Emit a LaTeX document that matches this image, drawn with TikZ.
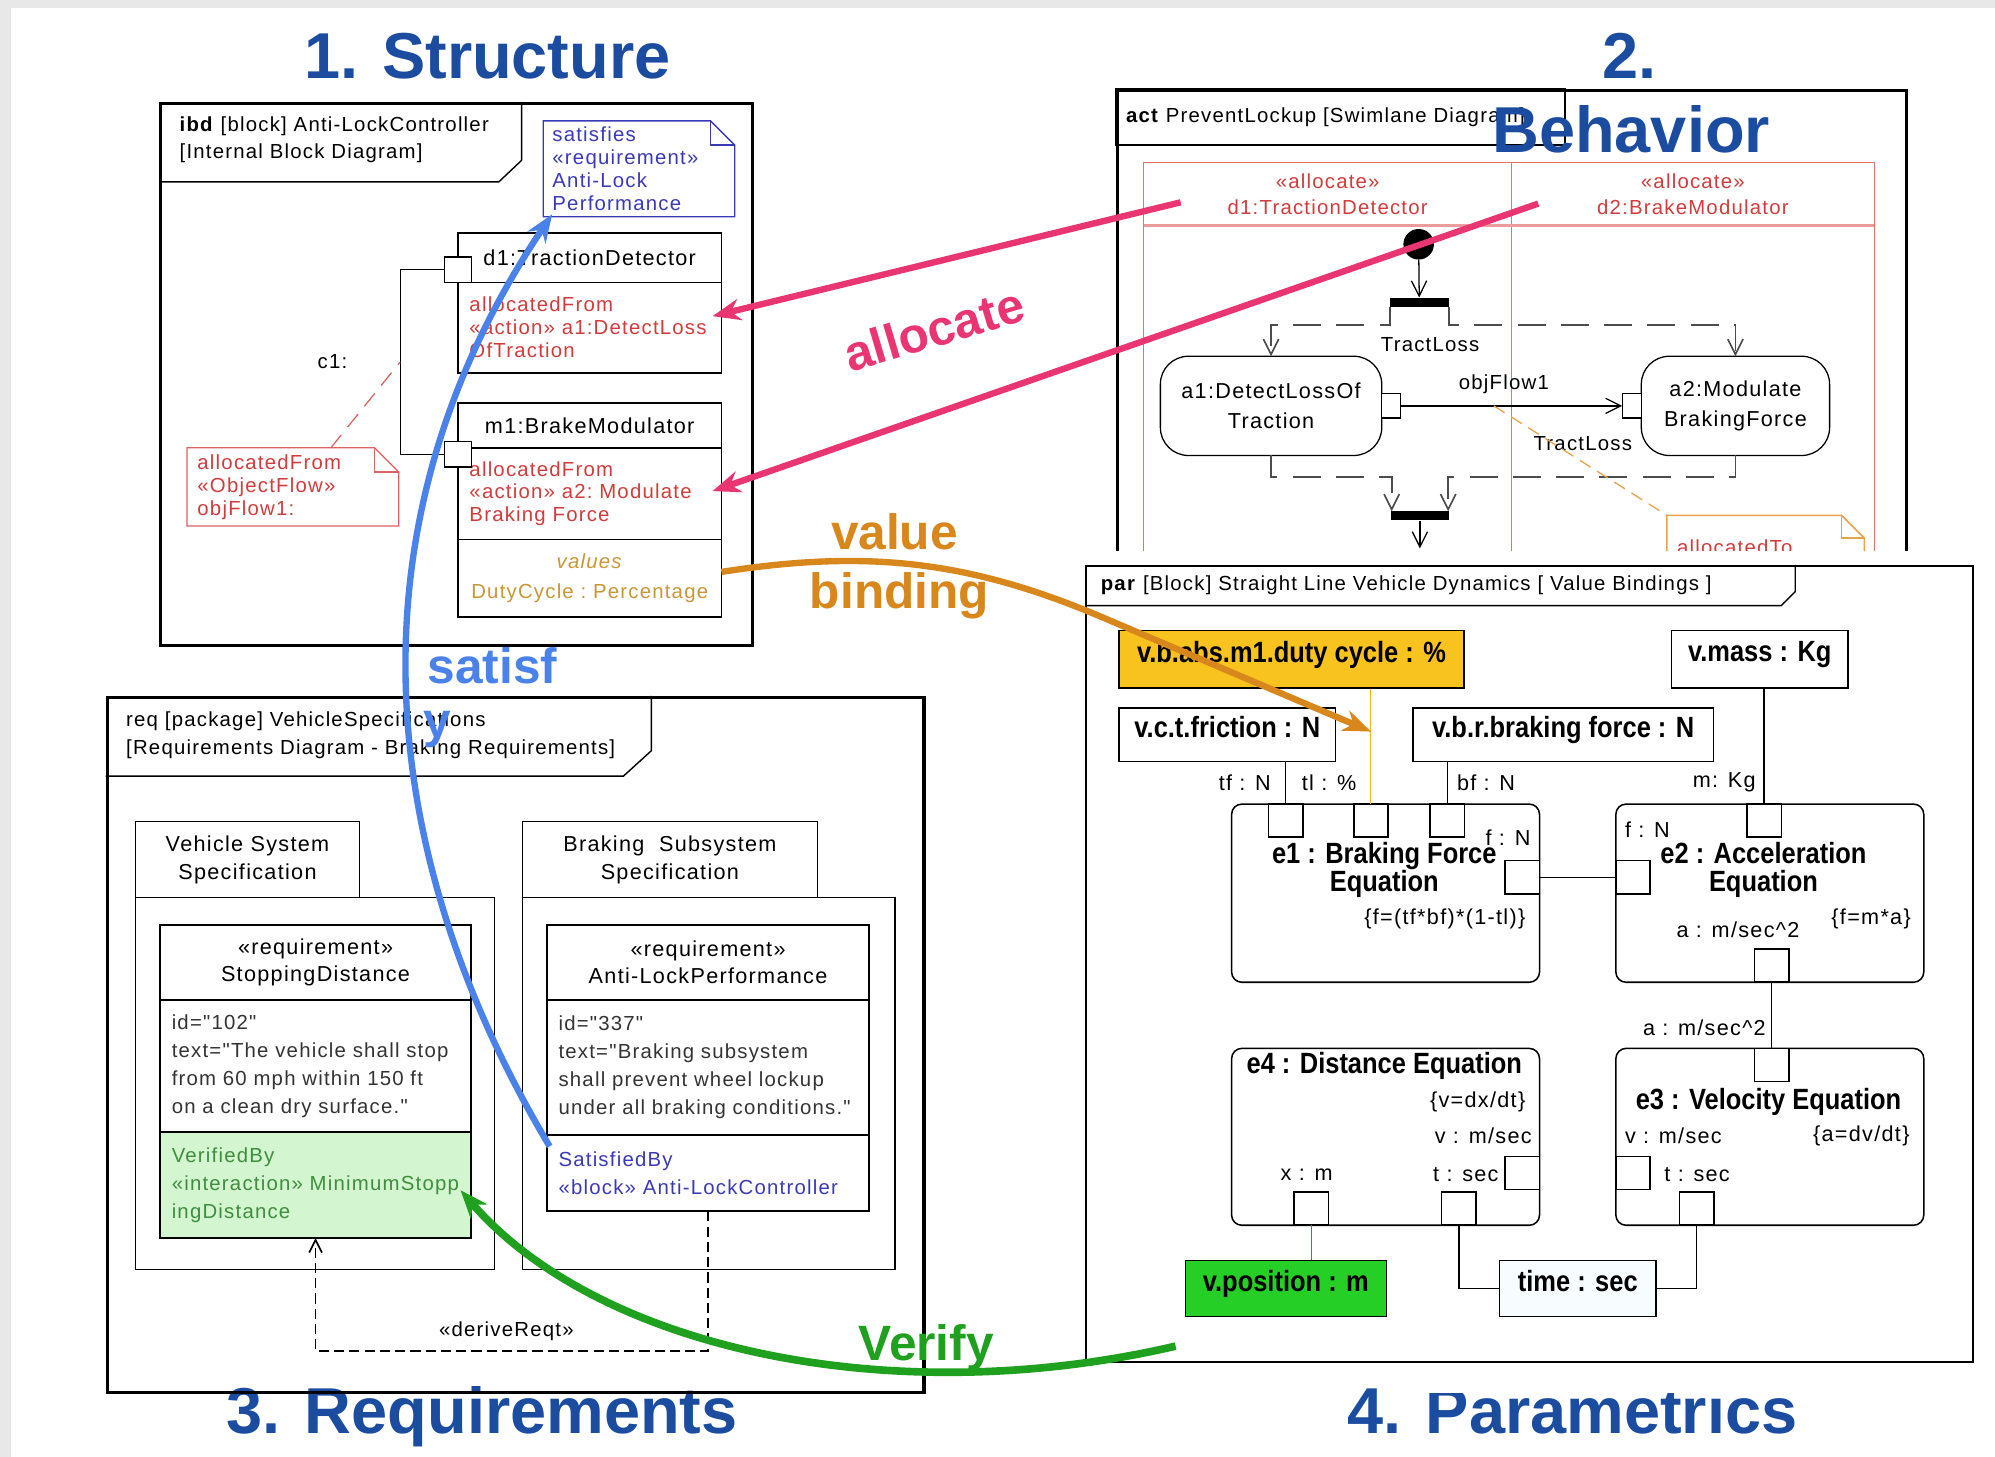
\documentclass[tikz,border=0pt]{standalone}
\usepackage{fontspec}
\setmainfont{Liberation Sans}
\newfontfamily\umlfont[LetterSpace=6]{Liberation Sans}
\newfontfamily\parfont[FakeStretch=0.87]{Liberation Sans}
\usepackage{tikz}
\usetikzlibrary{arrows.meta, positioning, calc}
\definecolor{TitleBlue}{HTML}{1B4C9F}
\definecolor{AllocPink}{HTML}{EA3573}
\definecolor{BindOrange}{HTML}{D8871C}
\definecolor{SatBlue}{HTML}{4A82EA}
\definecolor{VerGreen}{HTML}{1FA01F}
\definecolor{UmlRed}{HTML}{D23C3C}
\definecolor{LaneRed}{HTML}{E27272}
\definecolor{NoteBlue}{HTML}{3A3AB8}
\definecolor{ValOrange}{HTML}{C99638}
\definecolor{ReqGreen}{HTML}{3E8E3E}
\definecolor{ReqFill}{HTML}{D3F5CF}
\definecolor{DutyYellow}{HTML}{F8C31E}
\definecolor{PosGreen}{HTML}{25CF25}
\definecolor{NoteOrange}{HTML}{E9A24A}
\definecolor{SlideGray}{HTML}{E8E8E8}
\definecolor{TextGray}{HTML}{333333}

% font shortcuts
\newcommand{\umltext}{\umlfont\fontsize{16}{18}\selectfont}
\newcommand{\umlname}{\umlfont\fontsize{17}{21}\selectfont}
\newcommand{\reqtext}{\umlfont\fontsize{16}{22}\selectfont}
\newcommand{\parname}{\parfont\fontsize{23}{22}\selectfont\bfseries}
\newcommand{\parlabel}{\umlfont\fontsize{17}{20}\selectfont}
\newcommand{\bigword}{\fontsize{39}{44}\selectfont\bfseries}
\newcommand{\titletext}{\fontsize{51}{56}\selectfont\bfseries}

% note outline with folded corner
\newcommand{\dogear}[3]{%
  \draw[#2] (#1.north west) -- ([xshift=-#3]#1.north east) -- ([yshift=-#3]#1.north east)
    -- (#1.south east) -- (#1.south west) -- cycle;
  \draw[#2] ([xshift=-#3]#1.north east) |- ([yshift=-#3]#1.north east);}

\tikzset{
  % frames
  diagframe/.style={draw, line width=2.6pt, anchor=north west, inner sep=0pt},
  parframe/.style={draw, line width=1.3pt, fill=white, anchor=north west, inner sep=0pt},
  hdrline/.style={line width=1.1pt},
  framelabel/.style={anchor=west, align=left, font=\umltext, inner sep=0pt},
  % ibd blocks
  blockhead/.style={draw, line width=1.4pt, outer sep=0pt, minimum width=207pt, font=\umlname, inner sep=0pt},
  blockcomp/.style={draw, line width=1.4pt, outer sep=0pt, minimum width=207pt, text width=189pt, inner xsep=9pt, inner ysep=0pt, align=left, font=\umltext, text=UmlRed},
  port/.style={draw, line width=1pt, fill=white, outer sep=0pt, minimum width=21pt, minimum height=20pt, inner sep=0pt},
  conn/.style={line width=1pt},
  note/.style={align=left, font=\umltext, inner sep=0pt, anchor=north west},
  % activity
  action/.style={draw, line width=1pt, rounded corners=22pt, align=center, font=\umlname, minimum height=78pt, anchor=north west, outer sep=0pt},
  actpin/.style={draw, line width=1pt, fill=white, outer sep=0pt, minimum width=15pt, minimum height=19pt, inner sep=0pt},
  bar/.style={fill=black, minimum width=46pt, minimum height=7pt, inner sep=0pt},
  ctrlflow/.style={line width=1.3pt, black!70, dash pattern=on 22pt off 12pt, -{Straight Barb[length=12pt,width=12pt]}},
  objflow/.style={line width=1pt, -{Straight Barb[length=12pt,width=12pt]}},
  lanebox/.style={draw=LaneRed, line width=0.8pt, outer sep=0pt, align=center, font=\umltext, text=UmlRed, inner sep=0pt, anchor=north west},
  % requirements
  pkgtab/.style={draw, line width=1pt, align=center, font=\umlname, minimum height=60pt, anchor=north west, fill=white},
  pkgbody/.style={draw, line width=1pt, anchor=north west},
  reqhead/.style={draw, line width=1.6pt, outer sep=0pt, align=center, font=\umlname, inner sep=0pt},
  reqcomp/.style={draw, line width=1.6pt, outer sep=0pt, align=left, font=\reqtext, text=TextGray, inner xsep=9pt, inner ysep=0pt},
  derive/.style={line width=1.3pt, dash pattern=on 8pt off 4pt, -{Straight Barb[length=10pt,width=10pt]}},
  % parametrics
  valbox/.style={draw, line width=1.2pt, font=\parname, text depth=12pt, inner sep=0pt, anchor=north west},
  constraint/.style={draw, line width=1.2pt, rounded corners=8pt, anchor=north west, inner sep=0pt, outer sep=0pt},
  cport/.style={draw, line width=1.2pt, fill=white, outer sep=0pt, minimum width=27pt, minimum height=26pt, inner sep=0pt},
  plabel/.style={font=\parlabel, inner sep=0pt},
  bind/.style={line width=1.2pt},
  % cross-diagram arrows
  bigarrow/.style={line width=5pt, -{Stealth[length=22pt,width=17pt]}},
  bigtext/.style={font=\bigword, inner sep=0pt, anchor=base},
  headline/.style={font=\titletext, text=TitleBlue, anchor=base, inner sep=0pt}
}

\begin{document}
\begin{tikzpicture}[x=1pt, y=-1pt]
  \useasboundingbox (0,0) rectangle (1568,1145);
  % slide background
  \fill[SlideGray] (0,0) rectangle (1568,1145);
  \fill[white] (9,6) rectangle (1568,1145);

  % Section titles
  \node[headline] (t1) at (383,62) {1. Structure};
  \node[headline] (t2) at (1281,62) {2.};
  \node[headline] (t3) at (379,1127) {3. Requirements};
  \begin{scope}
    % top of the last title is cut off
    \clip (1040,1060) -- (1103,1060) -- (1103,1095) -- (1430,1095) -- (1430,1145) -- (1040,1145) -- cycle;
    \node[headline] (t4) at (1236,1127) {4. Parametrics};
  \end{scope}

  % ---- internal block diagram ----
  \node[diagframe, minimum width=465pt, minimum height=426pt] (ibd) at (125,80) {};
  \draw[hdrline] (125,143) -- (392,143) -- (410,126) -- (410,80);
  \node[framelabel] (ibdlbl) at (141,110) {\textbf{ibd} [block] Anti-LockController\\[3pt]{[Internal Block Diagram]}};

  \node[note, text=NoteBlue, minimum width=150pt, minimum height=75pt, text width=136pt, inner xsep=7pt] (satnote) at (427,95)
    {satisfies\\«requirement»\\Anti-Lock\\Performance};
  \dogear{satnote}{NoteBlue, line width=1pt}{19pt}

  \node[blockhead, minimum height=39pt, anchor=north west] (d1) at (360,183) {d1:TractionDetector};
  \node[blockcomp, minimum height=71pt, below=0pt of d1] (d1alloc) {allocatedFrom\\«action»~a1:DetectLoss\\OfTraction};
  \node[blockhead, minimum height=35pt, anchor=north west] (m1) at (360,317) {m1:BrakeModulator};
  \node[blockcomp, minimum height=72pt, below=0pt of m1] (m1alloc) {allocatedFrom\\«action»~a2:~Modulate\\Braking~Force};
  \node[blockcomp, minimum height=61pt, below=0pt of m1alloc, align=center, text=ValOrange] (m1vals) {\textit{values}\\[5pt]DutyCycle~:~Percentage};

  % ports and connector c1
  \node[port, anchor=south] (d1p) at (d1.south west) {};
  \node[port, yshift=-5pt] (m1p) at (m1alloc.north west) {};
  \draw[conn] (d1p.west) -- ++(-35,0) coordinate (c1top) |- (m1p.west);
  \coordinate (c1mid) at ($(c1top)!0.5!(c1top |- m1p.west)$);
  \node[font=\umltext, left=38pt of c1mid] (c1lbl) {c1:};

  \node[note, text=UmlRed, minimum width=166pt, minimum height=61pt, text width=150pt, inner xsep=8pt] (objnote) at (147,352)
    {allocatedFrom\\«ObjectFlow»\\objFlow1:};
  \dogear{objnote}{UmlRed!80, line width=1pt}{19pt}
  \draw[UmlRed!80, line width=1pt, dash pattern=on 13pt off 8pt] ([xshift=113pt]objnote.north west) -- (c1mid);

  % ---- requirements diagram ----
  \node[diagframe, minimum width=642pt, minimum height=546pt] (req) at (83,547) {};
  \draw[hdrline] (83,610) -- (490,610) -- (512,590) -- (512,547);
  \node[framelabel] (reqlbl) at (99,578) {req [package] VehicleSpecifications\\[4pt]{[Requirements Diagram - Braking Requirements]}};

  \node[pkgbody, minimum width=282pt, minimum height=292pt] (vss) at (106,705) {};
  \node[pkgtab, minimum width=176pt] (vsstab) at (106,645) {Vehicle System\\[1pt]Specification};
  \node[pkgbody, minimum width=293pt, minimum height=292pt] (bss) at (410,705) {};
  \node[pkgtab, minimum width=232pt] (bsstab) at (410,645) {Braking~~Subsystem\\[1pt]Specification};

  \node[reqhead, minimum width=244pt, minimum height=59pt, anchor=north west] (sdhead) at (126,727) {«requirement»\\StoppingDistance};
  \node[reqcomp, minimum width=244pt, text width=226pt, minimum height=104pt, below=0pt of sdhead] (sdbody)
    {id="102"\\text="The vehicle shall stop\\from 60 mph within 150 ft\\on a clean dry surface."};
  \node[reqcomp, fill=ReqFill, text=ReqGreen, minimum width=244pt, text width=226pt, minimum height=83pt, below=0pt of sdbody] (sdver)
    {VerifiedBy\\«interaction»~MinimumStopp\\ingDistance};

  \node[reqhead, minimum width=253pt, minimum height=59pt, anchor=north west] (alhead) at (430,727) {«requirement»\\Anti-LockPerformance};
  \node[reqcomp, minimum width=253pt, text width=235pt, minimum height=106pt, below=0pt of alhead] (albody)
    {id="337"\\text="Braking subsystem\\shall prevent wheel lockup\\under all braking conditions."};
  \node[reqcomp, text=NoteBlue, minimum width=253pt, text width=235pt, minimum height=60pt, below=0pt of albody] (alsat)
    {SatisfiedBy\\«block»~Anti-LockController};

  \draw[derive] (alsat.south) -- ++(0,110) -| (sdver.south);
  \node[font=\umltext] (derivelbl) at (398,1046) {«deriveReqt»};

  % ---- activity diagram ----
  \begin{scope}
    \clip (850,60) rectangle (1520,433);
    \node[diagframe, minimum width=620pt, minimum height=420pt] (act) at (877,70) {};
    \node[draw, line width=1.1pt, anchor=north west, outer sep=0pt, minimum width=353pt, minimum height=44pt,
      text width=337pt, inner xsep=8pt, align=left, font=\umltext] (acthdr) at (877,70) {\textbf{act} PreventLockup [Swimlane Diagram]};

    \node[lanebox, minimum width=289pt, minimum height=49pt] (lane1) at (899,128) {«allocate»\\[2pt]d1:TractionDetector};
    \node[lanebox, minimum width=285pt, minimum height=49pt, right=0pt of lane1] (lane2) {«allocate»\\[2pt]d2:BrakeModulator};
    \node[lanebox, minimum width=289pt, minimum height=300pt, below=0pt of lane1] (lane1body) {};
    \node[lanebox, minimum width=285pt, minimum height=300pt, below=0pt of lane2] (lane2body) {};
    \draw[LaneRed!70, line width=2.4pt] (lane1.south west) -- (lane2.south east);

    \node[circle, fill=black, minimum size=24pt, inner sep=0pt] (init) at (1115,192) {};
    \node[bar] (fork) at (1115.5,237.5) {};
    \node[action, minimum width=174pt] (a1) at (912,280) {a1:DetectLossOf\\[2pt]Traction};
    \node[action, minimum width=148pt] (a2) at (1290,280) {a2:Modulate\\[2pt]BrakingForce};
    \node[actpin, right=0pt of a1] (a1out) {};
    \node[actpin, left=0pt of a2] (a2in) {};
    \node[bar] (join) at (1116,405.5) {};
    \coordinate (actexit) at (1116,431);

    \draw[objflow] (init) -- (fork);
    \draw[ctrlflow] (fork.south west) -- ++(0,14) -| (a1.north);
    \draw[ctrlflow] (fork.south east) -- ++(0,14) -| (a2.north);
    \draw[objflow] (a1out) -- (a2in);
    \draw[ctrlflow] (a1.south) -- ++(0,17) -| ([xshift=1pt]join.north west);
    \draw[ctrlflow] (a2.south) -- ++(0,17) -| ([xshift=-1pt]join.north east);
    \draw[objflow] (join) -- (actexit);

    \node[font=\umltext] (tl1) at (1124,271) {TractLoss};
    \node[font=\umltext] (of1) at (1182,302) {objFlow1};
    \node[font=\umltext] (tl2) at (1244,349) {TractLoss};

    \node[note, text=UmlRed, minimum width=155pt, minimum height=50pt, text width=139pt, inner xsep=8pt] (alloctonote) at (1310,405) {allocatedTo};
    \dogear{alloctonote}{NoteOrange, line width=1.2pt}{18pt}
    \coordinate (ofmid) at ($(a1out.east)!0.42!(a2in.west)$);
    \draw[NoteOrange, line width=1pt, dash pattern=on 10pt off 6pt] (ofmid) -- (alloctonote.north west);
  \end{scope}

  % ---- parametric diagram ----
  \node[parframe, minimum width=697pt, minimum height=626pt] (par) at (853,444) {};
  \draw[hdrline] (853,476) -- (1400,476) -- (1411,465) -- (1411,444);
  \node[framelabel] (parlbl) at (865,460) {\textbf{par} [Block] Straight Line Vehicle Dynamics [ Value Bindings ]};

  \node[valbox, fill=DutyYellow, minimum width=271pt, minimum height=45pt] (duty) at (879,495) {v.b.abs.m1.duty cycle : \%};
  \node[valbox, minimum width=139pt, minimum height=45pt] (mass) at (1313,495) {v.mass : Kg};
  \node[valbox, minimum width=170pt, minimum height=42pt] (fric) at (879,556) {v.c.t.friction : N};
  \node[valbox, minimum width=236pt, minimum height=42pt] (bforce) at (1110,556) {v.b.r.braking force : N};
  \node[valbox, fill=PosGreen, minimum width=158pt, minimum height=44pt] (vpos) at (931,990) {v.position : m};
  \node[valbox, fill=cyan!3, minimum width=123pt, minimum height=44pt] (time) at (1178,990) {time : sec};

  \node[constraint, minimum width=242pt, minimum height=140pt] (e1) at (968,632) {};
  \node[constraint, minimum width=242pt, minimum height=140pt] (e2) at (1270,632) {};
  \node[constraint, minimum width=242pt, minimum height=139pt] (e4) at (968,824) {};
  \node[constraint, minimum width=242pt, minimum height=139pt] (e3) at (1270,824) {};

  \node[font=\parname, align=center] (e1name) at (1088,684) {e1 : Braking Force\\Equation};
  \node[font=\parname, align=center] (e2name) at (1386,684) {e2 : Acceleration\\Equation};
  \node[font=\parname] (e3name) at (1390,866) {e3 : Velocity Equation};
  \node[font=\parname] (e4name) at (1088,838) {e4 : Distance Equation};

  % constraint ports
  \node[cport, below right=0pt and 29pt of e1.north west] (ptf) {};
  \node[cport, below right=0pt and 96pt of e1.north west] (ptl) {};
  \node[cport, below right=0pt and 156pt of e1.north west] (pbf) {};
  \node[cport, left=0pt of e1.east, yshift=12.5pt] (pf1) {};
  \node[cport, right=0pt of e2.west, yshift=12.5pt] (pf2) {};
  \node[cport, below right=0pt and 103pt of e2.north west] (pm) {};
  \node[cport, above right=0pt and 109pt of e2.south west] (pa2) {};
  \node[cport, below right=0pt and 109pt of e3.north west] (pa3) {};
  \node[cport, right=0pt of e3.west, yshift=-28.5pt] (pv3) {};
  \node[cport, above right=0pt and 50pt of e3.south west] (pt3) {};
  \node[cport, left=0pt of e4.east, yshift=-28.5pt] (pv4) {};
  \node[cport, above right=0pt and 49pt of e4.south west] (px) {};
  \node[cport, above right=0pt and 165pt of e4.south west] (pt4) {};

  % port labels
  \node[plabel, anchor=east] (ltf) at (999,615) {tf : N};
  \node[plabel, anchor=west] (ltl) at (1023,615) {tl : \%};
  \node[plabel, anchor=west] (lbf) at (1145,615) {bf : N};
  \node[plabel, anchor=east] (lm) at (1380,615) {m: Kg};
  \node[plabel, anchor=east] (lf1) at (1203,658) {f : N};
  \node[plabel, anchor=west] (lf2) at (1277,652) {f : N};
  \node[plabel, anchor=east] (le1) at (1199,722) {\{f=(tf*bf)*(1-tl)\}};
  \node[plabel, anchor=east] (le2) at (1502,722) {\{f=m*a\}};
  \node[plabel] (la2) at (1366,731) {a : m/sec\textasciicircum 2};
  \node[plabel, anchor=east] (la3) at (1388,808) {a : m/sec\textasciicircum 2};
  \node[plabel, anchor=west] (lv3) at (1277,893) {v : m/sec};
  \node[plabel, anchor=east] (le3) at (1501,893) {\{a=dv/dt\}};
  \node[plabel, anchor=west] (lt3) at (1308,923) {t : sec};
  \node[plabel, anchor=east] (le4) at (1199,866) {\{v=dx/dt\}};
  \node[plabel, anchor=east] (lv4) at (1204,893) {v : m/sec};
  \node[plabel] (lx) at (1027,923) {x : m};
  \node[plabel, anchor=east] (lt4) at (1178,923) {t : sec};

  % binding connectors
  \draw[bind] (ptf.north) -- (ptf.north |- fric.south);
  \draw[bind, DutyYellow!70!orange, line width=0.8pt] (ptl.north) -- (ptl.north |- duty.south);
  \draw[bind] (pbf.north) -- (pbf.north |- bforce.south);
  \draw[bind] (pm.north) -- (pm.north |- mass.south);
  \draw[bind] (pf1) -- (pf2);
  \draw[bind] (pa2) -- (pa3);
  \draw[bind, PosGreen!80!black, line width=0.8pt] (px.south) -- (px.south |- vpos.north);
  \draw[bind] (pt4.south) |- (time.west);
  \draw[bind] (pt3.south) |- (time.east);

  \node[headline] (t2b) at (1282,120) {Behavior};

  % ---- links between the four views ----
  \coordinate (alloc1s) at ($(lane1.north west)+(29,31)$);
  \coordinate (alloc2s) at ($(lane2.north west)+(21,32)$);
  \coordinate (verifys) at (924,1058);
  \draw[bigarrow, AllocPink] (alloc1s) -- ([shift={(-7pt,9pt)}]d1alloc.east);
  \draw[bigarrow, AllocPink] (alloc2s) -- ([shift={(-7pt,2pt)}]m1alloc.east);
  \draw[bigarrow, BindOrange] ([yshift=5pt]m1vals.east) .. controls (680,432) and (760,440) .. (866,485) -- ([yshift=57pt]ptl.north);
  \draw[bigarrow, SatBlue] ([shift={(2pt,-9pt)}]alsat.north west) .. controls (300,680) and (265,420) .. ([shift={(7pt,2pt)}]satnote.south west);
  \draw[bigarrow, VerGreen, line width=6pt] (verifys) .. controls (700,1110) and (470,1060) .. ([shift={(-8pt,-4pt)}]sdver.east);

  \node[bigtext, text=AllocPink, rotate=16.5] (allocw) at (738,272) {allocate};
  \node[bigtext, text=BindOrange] (valw) at (703,432) {value};
  \node[bigtext, text=BindOrange] (bindw) at (707,478) {binding};
  \node[bigtext, text=SatBlue] (satw) at (387,537) {satisf};
  \node[bigtext, text=SatBlue] (saty) at (344,580) {y};
  \node[bigtext, text=VerGreen] (verw) at (728,1069) {Verify};
\end{tikzpicture}
\end{document}
